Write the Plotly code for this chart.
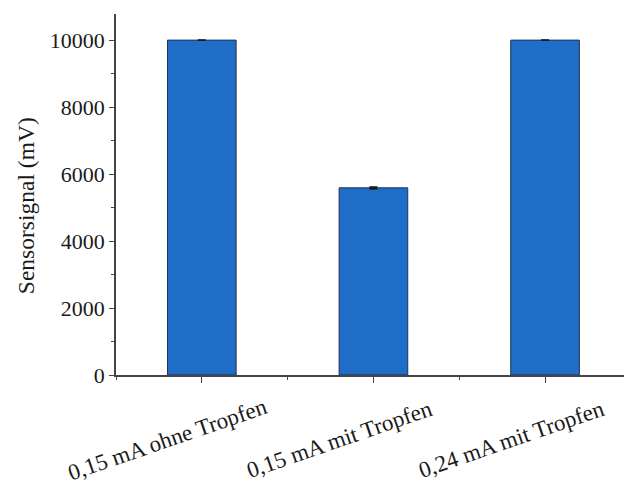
import plotly.graph_objects as go

categories = ["0,15 mA ohne Tropfen", "0,15 mA mit Tropfen", "0,24 mA mit Tropfen"]
signal_mv = [10000, 5590, 10000]
signal_err = [None, 25, None]
y_tick_vals = [0, 2000, 4000, 6000, 8000, 10000]
y_tick_text = ["0", "2000", "4000", "6000", "8000", "10000"]
y_title = "Sensorsignal (mV)"

FONT = "Liberation Serif, Times New Roman, serif"
xpos = list(range(len(categories)))

fig = go.Figure()
fig.add_trace(go.Bar(
    x=xpos, y=signal_mv, width=0.4,
    marker=dict(color="#1f6dc6", line=dict(color="#1d3557", width=1)),
    error_y=dict(type="data", array=signal_err, color="#111111", thickness=1.5, width=4),
))

for i, lab in zip(xpos, categories):
    fig.add_annotation(
        x=i, xref="x", y=0, yref="paper", text=lab, showarrow=False,
        textangle=-19, xanchor="center", yanchor="middle",
        xshift=-34, yshift=-64,
        font=dict(family=FONT, size=23, color="#1a1a1a"),
    )

fig.add_annotation(
    x=-0.177, xref="paper", y=0.468, yref="paper", text=y_title, showarrow=False,
    textangle=-90, xanchor="center", yanchor="middle",
    font=dict(family=FONT, size=23.5, color="#1a1a1a"),
)

fig.update_layout(
    width=624, height=486,
    margin=dict(l=116, r=0, t=14, b=111),
    paper_bgcolor="white", plot_bgcolor="white",
    showlegend=False,
    font=dict(family=FONT, color="#1a1a1a"),
)
fig.update_xaxes(
    range=[-0.5, 2.46], tickmode="array", tickvals=xpos, ticktext=["", "", ""],
    showline=True, linecolor="#444444", linewidth=1.5,
    ticks="outside", ticklen=6, tickcolor="#444444", tickwidth=1.3,
    minor=dict(tick0=0.5, dtick=1, ticks="outside", ticklen=3, tickcolor="#444444", tickwidth=1.3),
    showgrid=False, zeroline=False,
)
fig.update_yaxes(
    range=[0, 10780], tickmode="array", tickvals=y_tick_vals, ticktext=y_tick_text,
    showline=True, linecolor="#444444", linewidth=1.5,
    ticks="outside", ticklen=5, tickcolor="#444444", tickwidth=1.3,
    minor=dict(tick0=0, dtick=1000, ticks="outside", ticklen=3, tickcolor="#444444", tickwidth=1.3),
    tickfont=dict(family=FONT, size=22, color="#1a1a1a"),
    showgrid=False, zeroline=False,
)

fig.write_html("out.html")
